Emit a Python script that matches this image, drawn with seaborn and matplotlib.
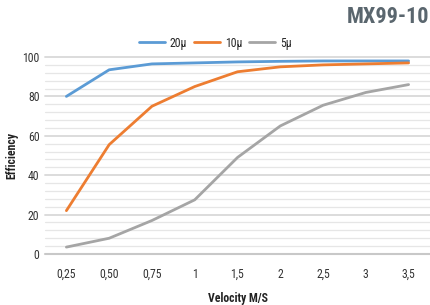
import matplotlib
matplotlib.use("Agg")
import matplotlib.pyplot as plt
import seaborn as sns
import pandas as pd
from matplotlib.lines import Line2D
from matplotlib import font_manager

categories = ["0,25", "0,50", "0,75", "1", "1,5", "2", "2,5", "3", "3,5"]
series_names = ["20µ", "10µ", "5µ"]
s20 = [80, 93.5, 96.5, 97, 97.5, 97.8, 98, 98, 98]
s10 = [22, 55.5, 75, 85, 92.5, 95, 96, 96.5, 97]
s5 = [3.5, 8, 17, 27.5, 49, 65, 75.5, 82, 86]
colors = ["#5B9BD5", "#ED7D31", "#A5A5A5"]

sns.set_theme(style="white")
names = {f.name for f in font_manager.fontManager.ttflist}
fam = "Roboto"
for cand in ["Roboto Condensed", "Liberation Sans Narrow", "Open Sans Condensed"]:
    if cand in names:
        fam = cand
        break
plt.rcParams['font.family'] = [fam, 'DejaVu Sans']
plt.rcParams['font.stretch'] = 'condensed'

rows = []
for name, vals in zip(series_names, [s20, s10, s5]):
    for c, v in zip(categories, vals):
        rows.append({"Velocity": c, "Efficiency": v, "Series": name})
df = pd.DataFrame(rows)
df["pos"] = df["Velocity"].map({c: i for i, c in enumerate(categories)})

fig = plt.figure(figsize=(4.31, 3.05), dpi=100)
ax = fig.add_axes([45/431, 51/305, 385/431, 197/305])

# gridlines
for y in range(4, 101, 4):
    major = (y % 20 == 0)
    ax.axhline(y, color="#d9d9d9" if major else "#e6e6e6", lw=1.3 if major else 0.9, zorder=0)
ax.axhline(0, color="#c8c8c8", lw=1.5, zorder=0)

sns.lineplot(data=df, x="pos", y="Efficiency", hue="Series", hue_order=series_names,
             palette=colors, linewidth=2, ax=ax, legend=False)
for l in ax.lines:
    l.set_clip_on(False)

ax.set_xlim(-0.5, len(categories) - 0.5)
ax.set_ylim(0, 100)
ax.set_xticks(range(len(categories)))
ax.set_xticklabels(categories)
ax.set_yticks(range(0, 101, 20))
ax.tick_params(axis="both", length=0, labelsize=8.5, colors="#333333")
ax.tick_params(axis="x", pad=10)
ax.tick_params(axis="y", pad=4)
for s in ax.spines.values():
    s.set_visible(False)
ax.set_xlabel("Velocity M/S", fontsize=8.5, fontweight="bold", color="#222222", labelpad=8)
ax.set_ylabel("Efficiency", fontsize=8.5, fontweight="bold", color="#222222", labelpad=3)

handles = [Line2D([0], [0], color=c, lw=2) for c in colors]
fig.legend(handles, series_names, loc="center", bbox_to_anchor=(0.5, 1 - 43/305), ncol=3,
           frameon=False, fontsize=8.5, handlelength=2.2, handletextpad=0.4, columnspacing=0.6)

fig.text(0.995, 1 - 17/305, "MX99-10", ha="right", va="center", fontsize=16,
         fontweight="bold", color="#5a666e")

fig.savefig("out.png", dpi=100)
